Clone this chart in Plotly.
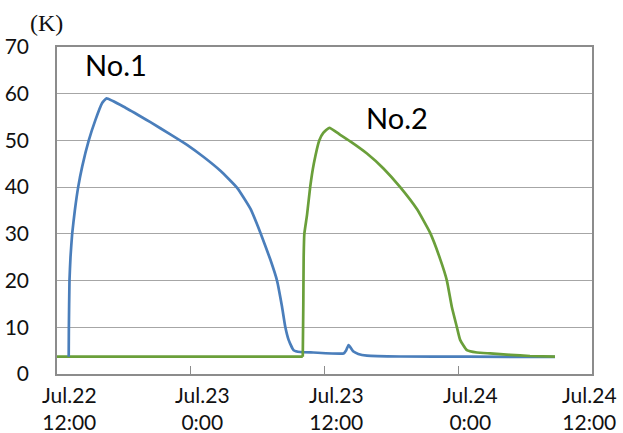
import pandas as pd
import plotly.graph_objects as go

# Hours since Jul.22 12:00 and temperature (K)
no1_hours = [1.05, 1.065, 1.12, 1.21, 1.36, 1.60, 1.90, 2.26, 2.85, 3.45, 4.05, 4.45,
             6.14, 8.38, 10.17, 11.70, 13.13, 14.66, 16.18, 17.35, 18.24, 19.14,
             19.74, 20.19, 20.48, 20.78, 21.23, 21.83, 22.99, 25.71, 25.95, 26.16, 26.60,
             27.03, 27.81, 30.79, 36.80, 44.68]
no1_temp = [3.7, 10, 20, 25, 30, 35, 40, 44.4, 50, 54.4, 58, 59.0,
            57.0, 53.9, 51.3, 49.0, 46.5, 43.5, 39.8, 35.4, 30.3, 24.5,
            20, 14.4, 10.1, 7.3, 5.1, 4.7, 4.6, 4.4, 5.1, 6.2, 4.8,
            4.3, 3.95, 3.75, 3.7, 3.65]

no2_hours = [0, 22.05, 22.10, 22.13, 22.19, 22.43, 22.72, 23.04, 23.53, 23.89, 24.43, 25.41,
             26.31, 27.81, 29.29, 30.79, 32.29, 33.48, 34.38, 34.98, 35.42, 35.87,
             36.17, 36.77, 37.67, 38.86, 40.65, 42.44, 44.68]
no2_temp = [3.7, 3.7, 15, 25, 30, 34, 40.1, 45, 50, 51.6, 52.7, 51.2,
            49.8, 47.2, 44.0, 40.0, 35.3, 30.2, 24.6, 20, 14.4, 10.1,
            7.3, 5.1, 4.6, 4.4, 4.1, 3.85, 3.7]

start = pd.Timestamp("2013-07-22 12:00")
tick_hours = [0, 12, 24, 36, 48]
tick_labels = ["Jul.22<br>12:00", "Jul.23<br>0:00", "Jul.23<br>12:00", "Jul.24<br>0:00", "Jul.24<br>12:00"]

def to_time(hours):
    return [start + pd.Timedelta(hours=h) for h in hours]

BLUE = "#4a7ebb"
GREEN = "#6a9f3a"
FONT = "Lato"
LW = 2.7

fig = go.Figure()
fig.add_trace(go.Scatter(x=to_time(no2_hours[:2]), y=no2_temp[:2], mode="lines",
                         line=dict(color=GREEN, width=LW)))
fig.add_trace(go.Scatter(x=to_time(no1_hours), y=no1_temp, mode="lines",
                         line=dict(color=BLUE, width=LW, shape="spline", smoothing=0.4)))
fig.add_trace(go.Scatter(x=to_time(no2_hours[1:]), y=no2_temp[1:], mode="lines",
                         line=dict(color=GREEN, width=LW, shape="spline", smoothing=0.4)))

tick_times = to_time(tick_hours)

annotations = []
for i, (t, lab) in enumerate(zip(tick_times, tick_labels)):
    shift = 12 if i < len(tick_labels) - 1 else -3
    annotations.append(dict(x=t, xref="x", y=0, yref="paper", yanchor="top", xanchor="center",
                            yshift=-6, xshift=shift, text=lab, showarrow=False,
                            font=dict(family=FONT, size=21, color="#111111")))
annotations.append(dict(x=-0.02, y=1.073, xref="paper", yref="paper", xanchor="center",
                        yanchor="middle", text="(K)", showarrow=False,
                        font=dict(family="Liberation Serif", size=24, color="#111111")))
annotations.append(dict(x=0.110, y=0.945, xref="paper", yref="paper", xanchor="center",
                        yanchor="middle", text="No.1", showarrow=False,
                        font=dict(family=FONT, size=29, color="#000000")))
annotations.append(dict(x=0.636, y=0.783, xref="paper", yref="paper", xanchor="center",
                        yanchor="middle", text="No.2", showarrow=False,
                        font=dict(family=FONT, size=29, color="#000000")))

fig.update_layout(
    width=623, height=433,
    margin=dict(l=57, r=31, t=47, b=59),
    paper_bgcolor="white", plot_bgcolor="white",
    showlegend=False,
    annotations=annotations,
    xaxis=dict(type="date", range=[tick_times[0], tick_times[-1]], tickvals=tick_times,
               showticklabels=False, ticks="inside", ticklen=8, tickcolor="#8c8c8c",
               showgrid=False, zeroline=False, showline=True, linecolor="#8c8c8c",
               linewidth=1.5, mirror=True, automargin=False),
    yaxis=dict(range=[0, 70], dtick=10, showgrid=True, gridcolor="#a6a6a6", gridwidth=1,
               zeroline=False, showline=True, linecolor="#8c8c8c", linewidth=1.5, mirror=True,
               ticks="", ticklabelstandoff=22, automargin=False,
               tickfont=dict(family=FONT, size=21, color="#111111")),
)

fig.write_html("out.html")
